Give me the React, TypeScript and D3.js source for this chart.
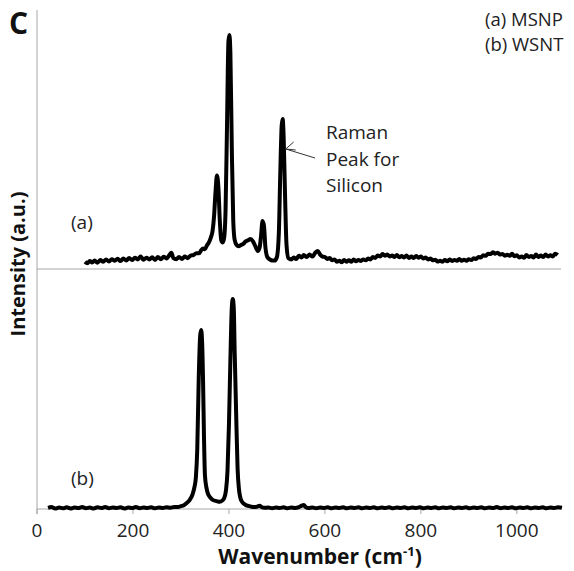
import React from "react";
import * as d3 from "d3";

// Wavenumber (cm-1), intensity (a.u., relative to own baseline)
const ramanA: [number, number][] = [
  [100, 0.03], [105, 0.024], [110, 0.033], [115, 0.027], [120, 0.035], [126, 0.026], [132, 0.037], [138, 0.03],
  [144, 0.04], [150, 0.031], [156, 0.041], [162, 0.034], [168, 0.043], [174, 0.033], [180, 0.044], [186, 0.035],
  [192, 0.046], [198, 0.037], [204, 0.047], [210, 0.04], [216, 0.052], [222, 0.039], [228, 0.047], [234, 0.04],
  [240, 0.049], [246, 0.038], [252, 0.05], [258, 0.041], [264, 0.051], [270, 0.044], [276, 0.058], [280, 0.068],
  [284, 0.046], [290, 0.041], [296, 0.05], [302, 0.042], [308, 0.052], [314, 0.045], [320, 0.056], [326, 0.058],
  [332, 0.066], [338, 0.066], [342, 0.078], [346, 0.085], [350, 0.082], [354, 0.098], [358, 0.11], [362, 0.13],
  [366, 0.16], [369, 0.22], [372, 0.32], [375, 0.39], [378, 0.34], [381, 0.2], [384, 0.12], [387, 0.11],
  [390, 0.13], [393, 0.25], [396, 0.6], [399, 0.95], [401, 0.975], [403, 0.9], [406, 0.5], [409, 0.2],
  [412, 0.12], [416, 0.1], [420, 0.095], [425, 0.1], [430, 0.105], [435, 0.115], [440, 0.12], [445, 0.125],
  [450, 0.115], [455, 0.095], [460, 0.075], [464, 0.09], [467, 0.14], [470, 0.2], [473, 0.18], [476, 0.09],
  [480, 0.05], [485, 0.04], [490, 0.035], [495, 0.035], [500, 0.05], [504, 0.15], [507, 0.4], [510, 0.6],
  [512, 0.625], [514, 0.55], [517, 0.3], [520, 0.1], [524, 0.045], [530, 0.04], [535, 0.048], [540, 0.042],
  [546, 0.055], [551, 0.048], [556, 0.058], [562, 0.05], [568, 0.06], [574, 0.052], [580, 0.068], [585, 0.075],
  [590, 0.06], [595, 0.052], [600, 0.05], [605, 0.042], [610, 0.046], [615, 0.036], [620, 0.04], [625, 0.03],
  [630, 0.034], [635, 0.028], [640, 0.038], [645, 0.03], [650, 0.036], [655, 0.03], [660, 0.04], [665, 0.032],
  [670, 0.038], [675, 0.033], [680, 0.04], [685, 0.036], [690, 0.044], [695, 0.04], [700, 0.05], [705, 0.046],
  [710, 0.056], [715, 0.052], [720, 0.062], [725, 0.055], [730, 0.06], [735, 0.052], [740, 0.056], [745, 0.05],
  [750, 0.058], [755, 0.049], [760, 0.054], [765, 0.048], [770, 0.056], [775, 0.046], [780, 0.052], [785, 0.046],
  [790, 0.054], [795, 0.047], [800, 0.052], [805, 0.044], [810, 0.048], [815, 0.04], [820, 0.044], [825, 0.036],
  [830, 0.039], [835, 0.031], [840, 0.034], [845, 0.03], [850, 0.037], [855, 0.032], [860, 0.04], [865, 0.033],
  [870, 0.038], [875, 0.034], [880, 0.042], [885, 0.034], [890, 0.039], [895, 0.034], [900, 0.041], [905, 0.037],
  [910, 0.045], [915, 0.042], [920, 0.05], [925, 0.048], [930, 0.057], [935, 0.055], [940, 0.064], [945, 0.062],
  [950, 0.07], [955, 0.064], [960, 0.068], [965, 0.06], [970, 0.063], [975, 0.055], [980, 0.059], [985, 0.055],
  [990, 0.064], [995, 0.053], [1000, 0.057], [1005, 0.048], [1010, 0.052], [1015, 0.047], [1020, 0.058],
  [1025, 0.05], [1030, 0.054], [1035, 0.048], [1040, 0.06], [1045, 0.05], [1050, 0.056], [1055, 0.05],
  [1060, 0.06], [1065, 0.052], [1070, 0.057], [1075, 0.052], [1080, 0.064], [1085, 0.058],
];

const ramanB: [number, number][] = [
  [23, 0.005], [30, 0.008], [38, 0.002], [46, 0.006], [54, 0.003], [62, 0.007], [70, 0.002], [78, 0.006],
  [86, 0.004], [94, 0.008], [102, 0.003], [110, 0.006], [118, 0.002], [126, 0.007], [134, 0.004], [142, 0.008],
  [150, 0.003], [158, 0.006], [166, 0.004], [174, 0.007], [182, 0.002], [190, 0.006], [198, 0.004], [206, 0.008],
  [214, 0.003], [222, 0.006], [230, 0.004], [238, 0.007], [246, 0.003], [254, 0.006], [262, 0.004], [270, 0.007],
  [278, 0.005], [286, 0.008], [294, 0.008], [300, 0.012], [306, 0.016], [312, 0.025], [318, 0.037], [324, 0.06],
  [328, 0.09], [331, 0.13], [334, 0.25], [337, 0.54], [340, 0.72], [342, 0.746], [344, 0.7], [346, 0.54],
  [348, 0.3], [350, 0.14], [353, 0.09], [356, 0.065], [361, 0.048], [367, 0.037], [374, 0.033], [381, 0.03],
  [386, 0.035], [390, 0.045], [394, 0.08], [397, 0.16], [400, 0.35], [403, 0.62], [406, 0.84], [408, 0.875],
  [410, 0.84], [412, 0.65], [415, 0.4], [418, 0.17], [421, 0.08], [424, 0.045], [428, 0.028], [434, 0.018],
  [440, 0.013], [446, 0.01], [452, 0.008], [458, 0.009], [464, 0.014], [468, 0.008], [474, 0.005], [482, 0.006],
  [490, 0.003], [498, 0.006], [506, 0.004], [514, 0.007], [522, 0.003], [530, 0.006], [538, 0.004], [546, 0.008],
  [552, 0.014], [556, 0.017], [560, 0.008], [566, 0.004], [574, 0.006], [582, 0.003], [590, 0.006], [598, 0.004],
  [606, 0.007], [614, 0.003], [622, 0.006], [630, 0.004], [638, 0.007], [646, 0.003], [654, 0.006], [662, 0.004],
  [670, 0.007], [678, 0.003], [686, 0.006], [694, 0.004], [702, 0.007], [710, 0.003], [718, 0.006], [726, 0.004],
  [734, 0.007], [742, 0.003], [750, 0.006], [758, 0.004], [766, 0.007], [774, 0.003], [782, 0.006], [790, 0.004],
  [798, 0.007], [806, 0.003], [814, 0.006], [822, 0.004], [830, 0.007], [838, 0.003], [846, 0.006], [854, 0.004],
  [862, 0.007], [870, 0.003], [878, 0.006], [886, 0.004], [894, 0.007], [902, 0.003], [910, 0.006], [918, 0.004],
  [926, 0.007], [934, 0.003], [942, 0.006], [950, 0.004], [958, 0.008], [966, 0.003], [974, 0.006], [982, 0.004],
  [990, 0.007], [998, 0.003], [1006, 0.006], [1014, 0.004], [1022, 0.007], [1030, 0.003], [1038, 0.006],
  [1046, 0.004], [1054, 0.007], [1062, 0.003], [1070, 0.006], [1078, 0.004], [1086, 0.007], [1094, 0.005],
];

const offsetA = 1.0;
const offsetB = 0;
const xTicks = [0, 200, 400, 600, 800, 1000];
const legendLines = ["(a) MSNP", "(b) WSNT"];
const annotationLines = ["Raman", "Peak for", "Silicon"];
const siliconPeak: [number, number] = [512, 0.5];

const FONT = "'Open Sans', sans-serif";
const AXIS = "#a6a6a6";

export default function App() {
  const x = d3.scaleLinear().domain([0, 1092]).range([37, 561]);
  const y = d3.scaleLinear().domain([0, 2.075]).range([509, 11]);

  const lineFor = (offset: number) =>
    d3
      .line<[number, number]>()
      .x((d) => x(d[0]))
      .y((d) => y(d[1] + offset))
      .curve(d3.curveMonotoneX);

  const pathA = lineFor(offsetA)(ramanA) || "";
  const pathB = lineFor(offsetB)(ramanB) || "";

  const ax = x(siliconPeak[0]) + 3;
  const ay = y(siliconPeak[1] + offsetA);

  return (
    <svg
      width={574}
      height={571}
      style={{ position: "absolute", left: 0, top: 0, background: "#fff" }}
      fontFamily={FONT}
    >
      <rect width={574} height={571} fill="#fff" />
      {/* axes */}
      <line x1={x(0)} x2={x(0)} y1={10} y2={514} stroke={AXIS} strokeWidth={1} />
      <line x1={x(0)} x2={x(1092)} y1={y(offsetA)} y2={y(offsetA)} stroke={AXIS} strokeWidth={1} />
      <line x1={x(0)} x2={x(1092)} y1={y(offsetB)} y2={y(offsetB)} stroke={AXIS} strokeWidth={1} />
      {xTicks.map((t) => (
        <g key={t}>
          <line x1={x(t)} x2={x(t)} y1={y(0)} y2={y(0) + 5} stroke={AXIS} />
          <text x={x(t)} y={537} textAnchor="middle" fontSize={19} fill="#222">
            {t}
          </text>
        </g>
      ))}
      {/* spectra */}
      <path d={pathA} fill="none" stroke="#000" strokeWidth={4} strokeLinejoin="round" />
      <path d={pathB} fill="none" stroke="#000" strokeWidth={4} strokeLinejoin="round" />
      {/* titles */}
      <text x={320} y={564} textAnchor="middle" fontSize={21} fontWeight="bold" fill="#111">
        Wavenumber (cm
        <tspan fontSize={13} dy={-8}>-1</tspan>
        <tspan dy={8}>)</tspan>
      </text>
      <text
        transform="translate(25,264) rotate(-90)"
        textAnchor="middle"
        fontSize={20}
        fontWeight="bold"
        fill="#111"
      >
        Intensity (a.u.)
      </text>
      <text x={9} y={34} fontSize={30} fontWeight="bold" fill="#111">
        C
      </text>
      {legendLines.map((s, i) => (
        <text key={s} x={485} y={26 + i * 25} fontSize={18.5} fill="#222">
          {s}
        </text>
      ))}
      <text x={71} y={229} fontSize={19} fill="#222">(a)</text>
      <text x={71} y={485} fontSize={19} fill="#222">(b)</text>
      {annotationLines.map((s, i) => (
        <text key={s} x={326} y={139 + i * 26.5} fontSize={19} fill="#222">
          {s}
        </text>
      ))}
      {/* arrow */}
      <line x1={315} y1={158} x2={ax} y2={ay} stroke="#333" strokeWidth={1} />
      <polyline
        points={`${ax + 8},${ay - 7} ${ax},${ay} ${ax + 10},${ay + 1}`}
        fill="none"
        stroke="#333"
        strokeWidth={1}
      />
    </svg>
  );
}
